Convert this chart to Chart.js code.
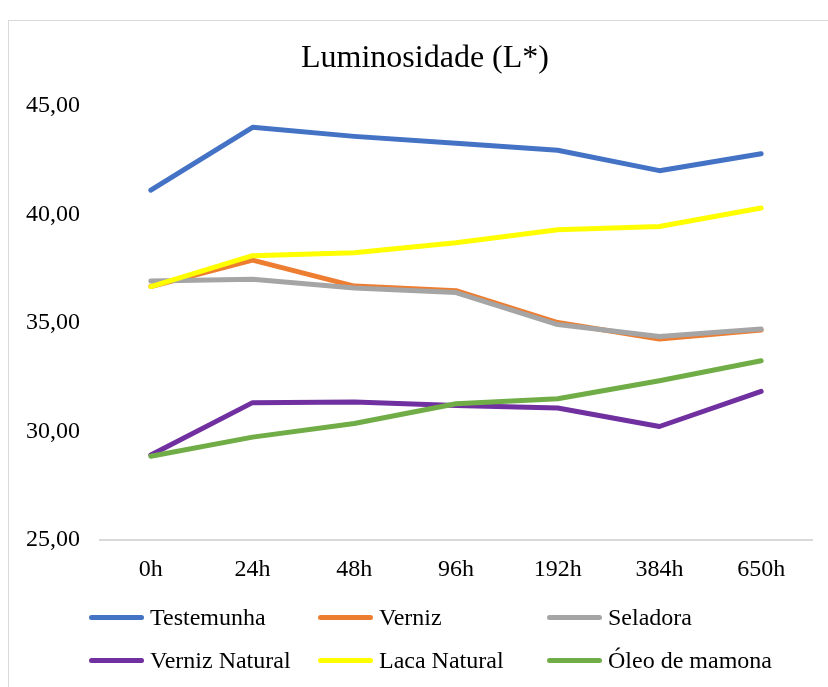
<!DOCTYPE html>
<html>
<head>
<meta charset="utf-8">
<script src="https://cdn.jsdelivr.net/npm/chart.js@4"></script>
<style>
  body { margin: 0; background: #fff; }
  #wrap { position: relative; width: 828px; height: 687px; overflow: hidden; }
  #frame { position: absolute; left: 8px; top: 20px; width: 900px; height: 800px; border: 1px solid #d9d9d9; box-sizing: border-box; }
  #box { position: absolute; left: 0; top: 0; width: 828px; height: 687px; }
  #title { position: absolute; left: 225px; width: 400px; top: 37px; text-align: center; font-family: "Liberation Serif", "Times New Roman", serif; font-size: 32px; line-height: 38px; color: #000; }
  #legend { position: absolute; left: 89px; top: 603px; display: grid; grid-template-columns: 229px 229px 229px; row-gap: 14px; font-family: "Liberation Serif", "Times New Roman", serif; font-size: 24px; color: #000; }
  .item { display: flex; align-items: center; height: 29px; }
  .swatch { width: 55px; height: 5px; border-radius: 3px; margin-right: 6px; }
</style>
</head>
<body>
<div id="wrap">
  <div id="frame"></div>
  <div id="box"><canvas id="chart"></canvas></div>
  <div id="title">Luminosidade (L*)</div>
  <div id="legend"></div>
</div>
<script>
// dados
let labels = ["0h", "24h", "48h", "96h", "192h", "384h", "650h"];
let yTicks = [25, 30, 35, 40, 45];
let testemunha = [41.12, 44.02, 43.60, 43.28, 42.96, 42.02, 42.80];
let verniz = [36.68, 37.90, 36.70, 36.49, 35.02, 34.26, 34.68];
let seladora = [36.93, 37.02, 36.61, 36.40, 34.93, 34.38, 34.72];
let vernizNatural = [28.92, 31.33, 31.36, 31.20, 31.08, 30.23, 31.85];
let lacaNatural = [36.68, 38.10, 38.24, 38.70, 39.30, 39.45, 40.30];
let oleoMamona = [28.86, 29.74, 30.37, 31.28, 31.51, 32.34, 33.26];

let seriesNames = ["Testemunha", "Verniz", "Seladora", "Verniz Natural", "Laca Natural", "Óleo de mamona"];
let seriesData = [testemunha, verniz, seladora, vernizNatural, lacaNatural, oleoMamona];
let colors = ["#4472C4", "#ED7D31", "#A5A5A5", "#7030A0", "#FFFF00", "#70AD47"];

let serif = "'Liberation Serif', 'Times New Roman', serif";

// datasets: a última série fica por cima
let datasets = seriesNames.map((name, i) => ({
  label: name,
  data: seriesData[i],
  borderColor: colors[i],
  backgroundColor: colors[i],
  borderWidth: 5,
  pointRadius: 0,
  tension: 0,
  borderCapStyle: "round",
  borderJoinStyle: "round",
  order: seriesNames.length - i
}));

new Chart(document.getElementById("chart"), {
  type: "line",
  data: { labels: labels, datasets: datasets },
  options: {
    responsive: true,
    maintainAspectRatio: false,
    animation: false,
    layout: { padding: { left: 0, right: 16, top: 106, bottom: 0 } },
    plugins: {
      legend: { display: false },
      tooltip: { enabled: false },
      title: { display: false }
    },
    scales: {
      x: {
        offset: true,
        grid: { display: false, drawTicks: false, offset: true },
        border: { display: true, color: "#d9d9d9", width: 2 },
        ticks: { color: "#000", font: { family: serif, size: 24 }, padding: 15, maxRotation: 0 },
        afterFit: (scale) => { scale.height = 147; }
      },
      y: {
        min: 25,
        max: 45,
        grid: { display: false, drawTicks: false },
        border: { display: false },
        afterBuildTicks: (scale) => { scale.ticks = yTicks.map((v) => ({ value: v })); },
        ticks: {
          color: "#000",
          font: { family: serif, size: 24 },
          padding: 20,
          callback: (v) => v.toFixed(2).replace(".", ",")
        },
        afterFit: (scale) => { scale.width = 100; }
      }
    }
  }
});

// legenda em 3 colunas
let legend = document.getElementById("legend");
seriesNames.forEach((name, i) => {
  let item = document.createElement("div");
  item.className = "item";
  item.innerHTML = `<span class="swatch" style="background:${colors[i]}"></span><span>${name}</span>`;
  legend.appendChild(item);
});
</script>
</body>
</html>
